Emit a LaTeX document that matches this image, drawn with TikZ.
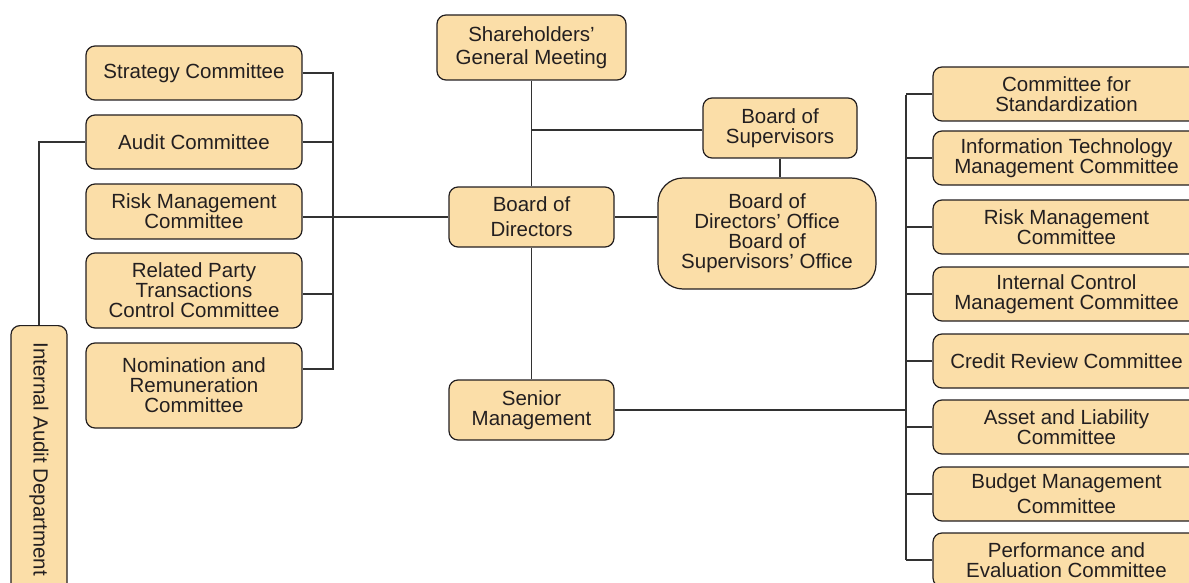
\documentclass[tikz,border=0pt]{standalone}
\usepackage{fontspec}
\setmainfont{Liberation Sans}
\definecolor{boxfill}{RGB}{251,222,168}
\definecolor{ink}{RGB}{35,31,32}
\definecolor{wirec}{RGB}{50,50,50}
\begin{document}
\begin{tikzpicture}[x=1pt,y=-1pt,
  box/.style={draw=ink, line width=1.2pt, fill=boxfill, rounded corners=9pt, align=center,
    text=ink, font=\fontsize{20.5}{20}\selectfont, inner sep=0pt},
  lbox/.style={box, minimum width=216pt},
  rbox/.style={box, minimum width=267pt, minimum height=54pt},
  wire/.style={draw=wirec, line width=1.3pt}]
\useasboundingbox (0,0) rectangle (1189,583);
\clip (0,0) rectangle (1189,583);

% left committees
\node[lbox, minimum height=54pt] (strat) at (194,73) {Strategy Committee};
\node[lbox, minimum height=54pt] (audit) at (194,142) {Audit Committee};
\node[lbox, minimum height=55pt] (riskL) at (194,211.5) {Risk Management\\Committee};
\node[lbox, minimum height=75pt] (rel) at (194,290.5) {Related Party\\Transactions\\Control Committee};
\node[lbox, minimum height=85pt] (nom) at (194,385.5) {Nomination and\\Remuneration\\Committee};
\node[box, rotate=-90, anchor=west, minimum width=267pt, minimum height=56pt] (iad) at (39,325) {Internal Audit Department};

% centre
\node[box, minimum width=189pt, minimum height=65pt] (sgm) at (531.5,47.5) {Shareholders’\\[3pt]General Meeting};
\node[box, minimum width=154pt, minimum height=60pt] (bos) at (780,128) {Board of\\Supervisors};
\node[box, rounded corners=25pt, minimum width=218pt, minimum height=111pt] (office) at (767,233.5) {Board of\\Directors’ Office\\Board of\\Supervisors’ Office};
\node[box, minimum width=165pt, minimum height=60pt] (bod) at (531.5,217) {Board of\\[5pt]Directors};
\node[box, minimum width=165pt, minimum height=60pt] (sm) at (531.5,410) {Senior\\Management};

% right committees
\node[rbox] (r1) at (1066.5,94) {Committee for\\Standardization};
\node[rbox] (r2) at (1066.5,158) {Information Technology\\Management Committee};
\node[rbox] (r3) at (1066.5,227) {Risk Management\\Committee};
\node[rbox] (r4) at (1066.5,294) {Internal Control\\Management Committee};
\node[rbox] (r5) at (1066.5,361) {Credit Review Committee};
\node[rbox] (r6) at (1066.5,427) {Asset and Liability\\Committee};
\node[rbox] (r7) at (1066.5,494) {Budget Management\\[5pt]Committee};
\node[rbox] (r8) at (1066.5,560) {Performance and\\Evaluation Committee};

% left wiring
\coordinate (lb1) at (333,73);
\coordinate (lb2) at (333,369);
\coordinate (lrel) at (333,294);
\draw[wire] (strat.east) -- (lb1) -- (lb2) -- (lb2 -| nom.east);
\draw[wire] (audit.east) -- (audit.east -| lb1);
\draw[wire] (lrel) -- (lrel -| rel.east);
\draw[wire] (bod.west) -- (bod.west -| riskL.east);
\draw[wire] (iad.west) |- (audit.west);

% centre wiring
\coordinate (j1) at (531.5,130);
\draw[wire] (sgm.south) -- (bod.north);
\draw[wire] (j1) -- (j1 -| bos.west);
\draw[wire] (bos.south) -- (bos.south |- office.north);
\draw[wire] (bod.east) -- (bod.east -| office.west);
\draw[wire] (bod.south) -- (sm.north);

% right wiring
\coordinate (rt) at (906,95);
\coordinate (rb) at (906,560);
\draw[wire] (rt) -- (rb);
\draw[wire] (sm.east) -- (sm.east -| rt);
\foreach \n in {r1,r2,r3,r4,r5,r6,r7,r8}
  \draw[wire] (\n.west) -- (\n.west -| rt);
\end{tikzpicture}
\end{document}
